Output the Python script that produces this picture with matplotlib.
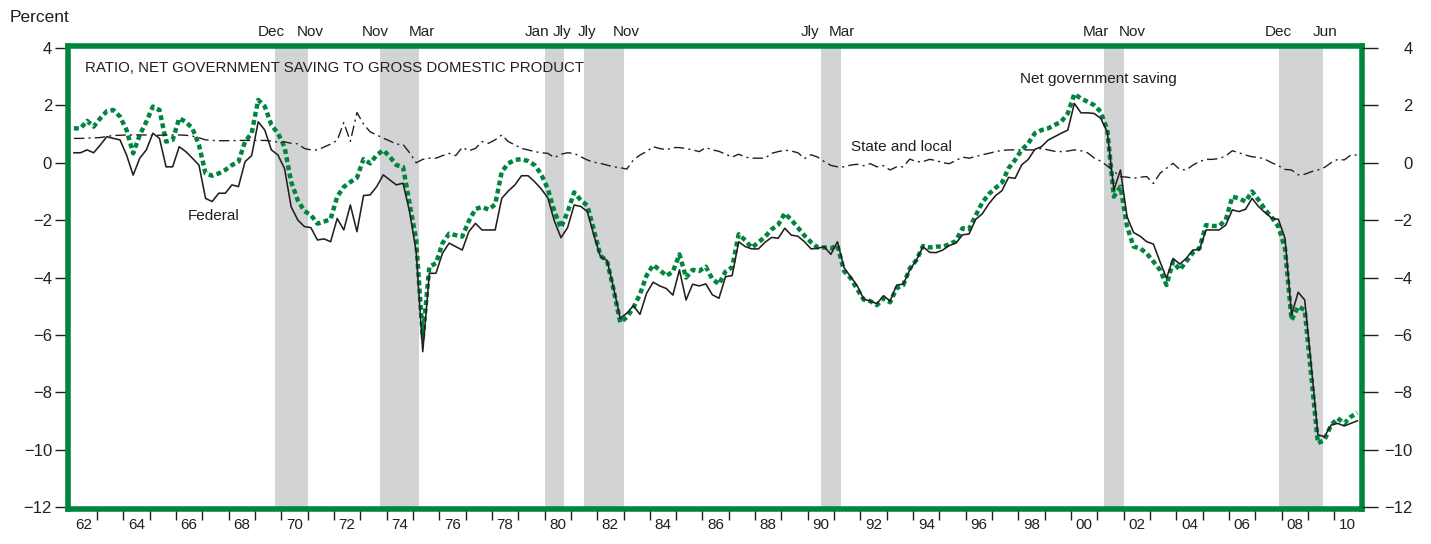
import numpy as np
import matplotlib
matplotlib.use("Agg")
import matplotlib.pyplot as plt
from matplotlib.transforms import blended_transform_factory

plt.rcParams['font.family'] = ['Liberation Sans', 'DejaVu Sans']

# ---------------- data (quarterly, 1962Q1 - 2010Q4), percent of GDP ----------------
first_year = 1962
last_year = 2010

federal = [
    0.35, 0.35, 0.45, 0.35,      # 1962
    0.62, 0.91, 0.85, 0.80,      # 1963
    0.27, -0.43, 0.16, 0.45,     # 1964
    1.03, 0.85, -0.14, -0.14,    # 1965
    0.56, 0.39, 0.16, -0.08,     # 1966
    -1.24, -1.35, -1.06, -1.06,  # 1967
    -0.77, -0.83, 0.04, 0.25,    # 1968
    1.43, 1.14, 0.45, 0.27,      # 1969
    -0.20, -1.53, -1.99, -2.22,  # 1970
    -2.26, -2.69, -2.65, -2.75,  # 1971
    -1.94, -2.34, -1.47, -2.40,  # 1972
    -1.14, -1.12, -0.83, -0.42,  # 1973
    -0.60, -0.77, -0.71, -1.70,  # 1974
    -3.10, -6.58, -3.85, -3.85,  # 1975
    -3.15, -2.80, -2.92, -3.04,  # 1976
    -2.40, -2.11, -2.34, -2.34,  # 1977
    -2.34, -1.24, -0.98, -0.77,  # 1978
    -0.45, -0.45, -0.66, -0.91,  # 1979
    -1.22, -2.03, -2.61, -2.26,  # 1980
    -1.47, -1.52, -1.70, -2.52,  # 1981
    -3.27, -3.40, -4.37, -5.42,  # 1982
    -5.24, -4.98, -5.28, -4.55,  # 1983
    -4.16, -4.29, -4.38, -4.61,  # 1984
    -3.73, -4.78, -4.23, -4.29,  # 1985
    -4.22, -4.60, -4.72, -3.97,  # 1986
    -3.93, -2.75, -2.92, -3.00,  # 1987
    -3.00, -2.77, -2.60, -2.63,  # 1988
    -2.28, -2.52, -2.56, -2.75,  # 1989
    -3.00, -2.98, -2.92, -3.19,  # 1990
    -2.75, -3.65, -3.97, -4.28,  # 1991
    -4.75, -4.82, -4.91, -4.63,  # 1992
    -4.82, -4.26, -4.23, -3.73,  # 1993
    -3.39, -2.92, -3.12, -3.13,  # 1994
    -3.04, -2.88, -2.80, -2.51,  # 1995
    -2.48, -1.97, -1.78, -1.43,  # 1996
    -1.15, -0.97, -0.51, -0.54,  # 1997
    -0.07, 0.12, 0.47, 0.56,     # 1998
    0.79, 0.91, 1.03, 1.14,      # 1999
    2.07, 1.74, 1.74, 1.72,      # 2000
    1.55, 1.08, -0.95, -0.25,    # 2001
    -1.88, -2.43, -2.56, -2.75,  # 2002
    -2.83, -3.44, -4.02, -3.33,  # 2003
    -3.53, -3.33, -3.04, -3.02,  # 2004
    -2.34, -2.34, -2.34, -2.17,  # 2005
    -1.64, -1.70, -1.62, -1.24,  # 2006
    -1.53, -1.74, -1.93, -1.97,  # 2007
    -2.63, -5.30, -4.51, -4.78,  # 2008
    -7.10, -9.48, -9.54, -9.14,  # 2009
    -9.08, -9.17, -9.08, -8.99,  # 2010
]

net_saving = [
    1.20, 1.20, 1.46, 1.26,      # 1962
    1.55, 1.80, 1.84, 1.61,      # 1963
    1.14, 0.33, 0.97, 1.43,      # 1964
    1.96, 1.84, 0.74, 0.80,      # 1965
    1.55, 1.43, 1.20, 0.62,      # 1966
    -0.37, -0.45, -0.37, -0.25,  # 1967
    -0.08, 0.04, 0.74, 1.03,     # 1968
    2.19, 1.96, 1.32, 1.03,      # 1969
    0.55, -0.66, -1.30, -1.68,   # 1970
    -1.82, -2.12, -2.05, -1.96,  # 1971
    -1.18, -0.84, -0.67, -0.52,  # 1972
    0.13, -0.02, 0.27, 0.44,     # 1973
    0.21, -0.08, -0.14, -1.41,   # 1974
    -2.69, -6.10, -3.62, -3.50,  # 1975
    -2.80, -2.47, -2.52, -2.57,  # 1976
    -2.03, -1.61, -1.54, -1.63,  # 1977
    -1.45, -0.31, -0.02, 0.10,   # 1978
    0.13, 0.06, -0.08, -0.40,    # 1979
    -0.91, -1.70, -2.26, -1.72,  # 1980
    -1.03, -1.30, -1.49, -2.34,  # 1981
    -3.24, -3.42, -4.43, -5.56,  # 1982
    -5.38, -5.05, -4.58, -3.93,  # 1983
    -3.56, -3.73, -3.94, -3.79,  # 1984
    -3.19, -4.00, -3.73, -3.77,  # 1985
    -3.62, -4.05, -4.23, -3.79,  # 1986
    -3.64, -2.49, -2.70, -2.96,  # 1987
    -2.77, -2.58, -2.32, -2.16,  # 1988
    -1.76, -1.99, -2.26, -2.54,  # 1989
    -2.77, -2.95, -2.95, -2.98,  # 1990
    -2.88, -3.77, -4.02, -4.40,  # 1991
    -4.77, -4.82, -4.96, -4.72,  # 1992
    -4.86, -4.37, -4.26, -3.68,  # 1993
    -3.39, -2.90, -2.95, -2.92,  # 1994
    -2.92, -2.84, -2.72, -2.28,  # 1995
    -2.31, -1.84, -1.39, -1.09,  # 1996
    -0.88, -0.69, -0.19, 0.10,   # 1997
    0.45, 0.68, 1.03, 1.14,      # 1998
    1.20, 1.32, 1.43, 1.72,      # 1999
    2.40, 2.24, 2.13, 2.01,      # 2000
    1.78, 1.14, -1.18, -0.83,    # 2001
    -2.22, -2.92, -2.98, -3.16,  # 2002
    -3.44, -3.73, -4.26, -3.44,  # 2003
    -3.73, -3.44, -3.13, -2.98,  # 2004
    -2.17, -2.20, -2.20, -1.99,  # 2005
    -1.18, -1.24, -1.35, -1.00,  # 2006
    -1.30, -1.64, -1.90, -2.23,  # 2007
    -2.98, -5.48, -5.01, -5.13,  # 2008
    -7.45, -9.77, -9.66, -9.14,  # 2009
    -8.90, -9.08, -8.85, -8.71,  # 2010
]

state_local = [
    0.85, 0.85, 0.86, 0.87,      # 1962
    0.88, 0.92, 0.95, 0.96,      # 1963
    0.97, 0.97, 0.97, 0.97,      # 1964
    0.96, 0.96, 0.97, 0.97,      # 1965
    0.97, 0.96, 0.93, 0.87,      # 1966
    0.80, 0.78, 0.77, 0.77,      # 1967
    0.77, 0.78, 0.78, 0.78,      # 1968
    0.78, 0.78, 0.76, 0.72,      # 1969
    0.73, 0.68, 0.66, 0.50,      # 1970
    0.45, 0.45, 0.55, 0.65,      # 1971
    0.78, 1.40, 0.75, 1.75,      # 1972
    1.35, 1.08, 0.97, 0.86,      # 1973
    0.76, 0.65, 0.64, 0.35,      # 1974
    0.00, 0.12, 0.16, 0.16,      # 1975
    0.25, 0.33, 0.25, 0.54,      # 1976
    0.42, 0.50, 0.74, 0.68,      # 1977
    0.80, 0.97, 0.74, 0.62,      # 1978
    0.50, 0.45, 0.39, 0.35,      # 1979
    0.33, 0.18, 0.30, 0.35,      # 1980
    0.33, 0.21, 0.10, 0.02,      # 1981
    -0.02, -0.08, -0.14, -0.17,  # 1982
    -0.22, 0.10, 0.27, 0.39,     # 1983
    0.56, 0.50, 0.45, 0.53,      # 1984
    0.53, 0.50, 0.45, 0.39,      # 1985
    0.53, 0.45, 0.40, 0.30,      # 1986
    0.20, 0.30, 0.20, 0.16,      # 1987
    0.16, 0.16, 0.33, 0.39,      # 1988
    0.44, 0.41, 0.35, 0.15,      # 1989
    0.28, 0.20, 0.04, -0.09,     # 1990
    -0.14, -0.14, -0.08, -0.05,  # 1991
    -0.10, -0.03, -0.14, -0.10,  # 1992
    -0.25, -0.14, -0.14, 0.13,   # 1993
    0.04, 0.04, 0.12, 0.08,      # 1994
    0.00, -0.03, 0.08, 0.20,     # 1995
    0.16, 0.22, 0.28, 0.33,      # 1996
    0.39, 0.43, 0.45, 0.45,      # 1997
    0.45, 0.45, 0.45, 0.50,      # 1998
    0.45, 0.40, 0.39, 0.41,      # 1999
    0.45, 0.42, 0.35, 0.17,      # 2000
    0.06, -0.11, -0.30, -0.48,   # 2001
    -0.50, -0.54, -0.50, -0.48,  # 2002
    -0.72, -0.37, -0.19, -0.02,  # 2003
    -0.23, -0.25, -0.08, 0.04,   # 2004
    0.12, 0.12, 0.15, 0.24,      # 2005
    0.42, 0.35, 0.27, 0.21,      # 2006
    0.19, 0.12, 0.00, -0.10,     # 2007
    -0.23, -0.25, -0.42, -0.40,  # 2008
    -0.31, -0.25, -0.16, 0.00,   # 2009
    0.12, 0.10, 0.27, 0.27,      # 2010
]

# recession periods (start, end) in fractional years and their month labels
recession_spans = [(1969.75, 1971.0), (1973.75, 1975.25), (1980.0, 1980.75),
                   (1981.5, 1983.0), (1990.5, 1991.25), (2001.25, 2002.0),
                   (2007.9, 2009.55)]
recession_months = ["Dec", "Nov", "Nov", "Mar", "Jan", "Jly", "Jly", "Nov",
                    "Jly", "Mar", "Mar", "Nov", "Dec", "Jun"]
recession_month_x = [1969.63, 1971.09, 1973.56, 1975.34, 1979.71, 1980.66,
                     1981.61, 1983.12, 1990.10, 1991.28, 2000.95, 2002.32,
                     2007.86, 2009.64]

year_labels = ["62", "64", "66", "68", "70", "72", "74", "76", "78", "80",
               "82", "84", "86", "88", "90", "92", "94", "96", "98", "00",
               "02", "04", "06", "08", "10"]
y_ticks = [-12, -10, -8, -6, -4, -2, 0, 2, 4]

# ---------------- styling ----------------
GREEN = "#00853f"
DARK = "#231f20"
SHADE = "#d1d3d4"

W, H = 1431, 544
fig = plt.figure(figsize=(W / 100, H / 100), dpi=100)
ax_left, ax_right, ax_top, ax_bot = 68, 1362, 46, 509.2
ax = fig.add_axes([ax_left / W, (H - ax_bot) / H,
                   (ax_right - ax_left) / W, (ax_bot - ax_top) / H])

quarters = np.arange(first_year, last_year + 1, 0.25) + 0.125

ax.set_xlim(1961.9, 2011.05)
ax.set_ylim(-12.07, 4.07)

for a, b in recession_spans:
    ax.axvspan(a, b, color=SHADE, lw=0, zorder=0)

ax.plot(quarters, net_saving, color=GREEN, lw=3.2,
        linestyle=(0, (1.1, 0.75)), zorder=2, solid_capstyle='butt')
ax.plot(quarters, federal, color=DARK, lw=1.15, zorder=3)
ax.plot(quarters, state_local, color=DARK, lw=1.0,
        linestyle=(0, (7.5, 3, 1.5, 3)), zorder=3)

for s in ax.spines.values():
    s.set_color(GREEN)
    s.set_linewidth(4.0)
    s.set_zorder(5)

# y axis left
ax.set_yticks(y_ticks)
ax.tick_params(axis='y', which='major', direction='out', length=9.5, width=1.0,
               color=DARK, pad=2, labelsize=12, labelcolor=DARK)
# y axis right
ax2 = ax.twinx()
ax2.set_ylim(ax.get_ylim())
ax2.set_yticks(y_ticks)
ax2.tick_params(axis='y', which='major', direction='out', length=11.5, width=1.0,
                color=DARK, pad=25, labelsize=12, labelcolor=DARK)
for lab in ax2.get_yticklabels():
    lab.set_horizontalalignment('right')
for s in ax2.spines.values():
    s.set_visible(False)

# x axis
ax.set_xticks(np.arange(first_year + 1, last_year + 1))
ax.set_xticklabels([])
label_pos = [int("19" + l) + 0.5 if int(l) > 50 else int("20" + l) + 0.5 for l in year_labels]
ax.set_xticks(label_pos, minor=True)
ax.set_xticklabels(year_labels, minor=True)
ax.tick_params(axis='x', which='major', direction='out', length=8, width=1.0,
               color=DARK)
ax.tick_params(axis='x', which='minor', length=0, pad=6, labelsize=11,
               labelcolor=DARK)

# texts
ax.text(1962.54, 3.30, "RATIO, NET GOVERNMENT SAVING TO GROSS DOMESTIC PRODUCT",
        ha='left', va='center', fontsize=10.8, color=DARK)
ax.text(1967.45, -1.85, "Federal", ha='center', va='center', fontsize=11, color=DARK)
ax.text(1993.54, 0.55, "State and local", ha='center', va='center', fontsize=11, color=DARK)
ax.text(2001.02, 2.92, "Net government saving", ha='center', va='center',
        fontsize=11, color=DARK)

trans = blended_transform_factory(ax.transData, ax.transAxes)
for m, xm in zip(recession_months, recession_month_x):
    ax.text(xm, 1.031, m, transform=trans, ha='center', va='center',
            fontsize=11, color=DARK, clip_on=False)

fig.text(10 / W, 1 - 18 / H, "Percent", ha='left', va='center', fontsize=12.5,
         color=DARK)

fig.savefig("out.png", dpi=100)
